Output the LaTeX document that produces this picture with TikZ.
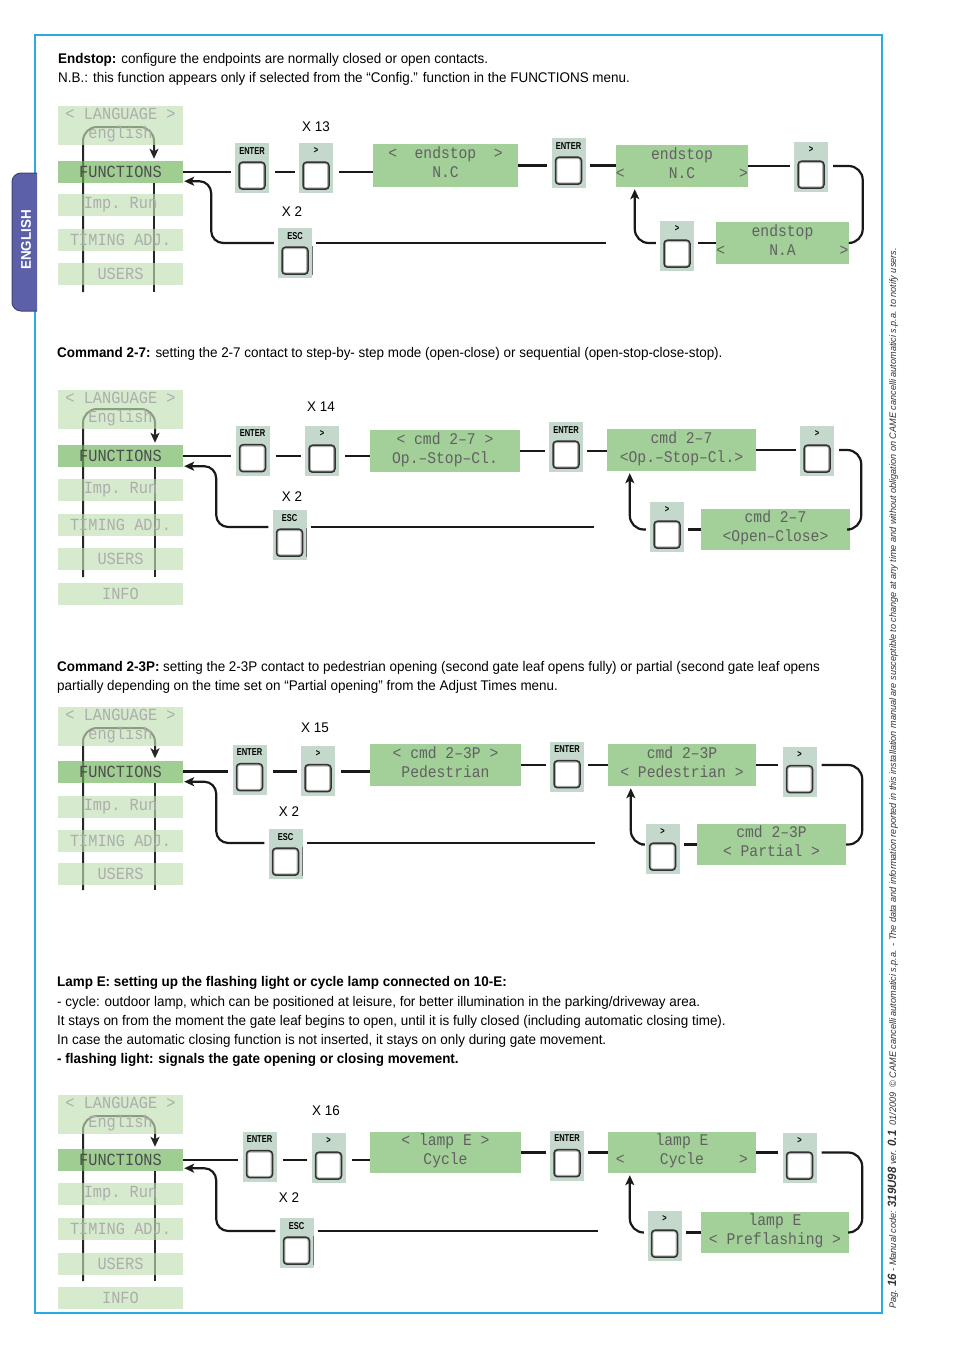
\documentclass[tikz,border=0pt]{standalone}
\usepackage{fontspec}
\setmainfont{Liberation Sans}[FakeStretch=0.96]
\newfontfamily\lcdfont{Liberation Mono}[FakeStretch=0.9]
\newfontfamily\keyfont{Liberation Sans}[FakeStretch=0.75]
\usepackage{tikz}
\usetikzlibrary{arrows.meta, positioning, backgrounds}
\definecolor{framecyan}{RGB}{41,171,226}
\definecolor{tabblue}{RGB}{92,96,168}
\definecolor{lcdgreen}{RGB}{163,207,153}
\definecolor{menulight}{RGB}{192,222,178}
\definecolor{menudark}{RGB}{108,178,88}
\definecolor{panelgrey}{RGB}{197,216,204}
\tikzstyle{menubox} = [rectangle, minimum width=125pt, minimum height=22pt, inner sep=0pt, fill=menulight, fill opacity=0.65, text opacity=1, text=black!32, font=\lcdfont\fontsize{17}{19}\selectfont, align=center]
\tikzstyle{menusel} = [menubox, fill=menudark, text=black!70]
\tikzstyle{lcd} = [rectangle, fill=lcdgreen, inner sep=0pt, minimum height=42pt, text height=30pt, text depth=6pt, text=black!62, font=\lcdfont\fontsize{16.3}{19}\selectfont, align=center]
\tikzstyle{keypanel} = [rectangle, fill=panelgrey, minimum width=34pt, minimum height=50pt, inner sep=0pt]
\tikzstyle{keybtn} = [rectangle, rounded corners=3.5pt, draw=black!80, line width=1.5pt, fill=white, minimum width=26pt, minimum height=27pt, inner sep=0pt, path picture={\draw[black!30, line width=3.6pt, rounded corners=3pt] (path picture bounding box.south west) rectangle (path picture bounding box.north east);}]
\tikzstyle{keylabel} = [font=\keyfont\bfseries\fontsize{10}{10}\selectfont, inner sep=0pt]
\tikzstyle{times} = [font=\fontsize{14}{14}\selectfont, inner sep=0pt]
\tikzstyle{bodytext} = [anchor=base west, inner sep=0pt, font=\fontsize{14}{14}\selectfont]
\tikzstyle{conn} = [line width=2.2pt, black!90]
\tikzstyle{flowarrow} = [conn, -{Stealth[length=10pt, width=9pt, inset=2.5pt]}]
\tikzstyle{menuline} = [line width=2pt, black!85]
\tikzstyle{menuarrow} = [menuline, -{Stealth[length=10pt, width=9pt, inset=2.5pt]}]
% key: name, label, x, y
\newcommand{\keypad}[4]{%
  \node (#1) [keypanel] at (#3,#4) {};
  \node (#1l) [keylabel] at ([yshift=-8pt]#1.north) {#2};
  \node (#1b) [keybtn] at ([yshift=17.5pt]#1.south) {};
}
\newcommand{\fbnum}[1]{{\bfseries\fontsize{12}{12}\selectfont #1}}
\begin{document}
\begin{tikzpicture}[x=1pt, y=-1pt]
\useasboundingbox (0,0) rectangle (954,1350);
% frame and tab
\draw[framecyan, line width=1.5pt] (35,35) rectangle (882,1313);
\filldraw[fill=tabblue, draw=tabblue!70!black, line width=1pt, rounded corners=9pt] (37,311) -- (12,311) -- (12,173) -- (37,173);
\node (tab) [rotate=90, text=white, font=\bfseries\fontsize{14}{14}\selectfont] at (26,240) {ENGLISH};
\node (foot) [rotate=90, anchor=base west, inner sep=0pt, text=black!80, font=\itshape\fontsize{9.5}{9.5}\selectfont] at (896,1309)
  {Pag. \fbnum{16} - Manual code: \fbnum{319U98} ver. \fbnum{0.1}~~01/2009~~© CAME cancelli automatici s.p.a. - The data and information reported in this installation manual are susceptible to change at any time and without obligation on CAME cancelli automatici s.p.a. to notify users.};

% ---------- endstop
\node (head1) [bodytext] at (58,63) {\textbf{Endstop:} configure the endpoints are normally closed or open contacts.};
\node (note1) [bodytext] at (58,82) {N.B.: this function appears only if selected from the “Config.” function in the FUNCTIONS menu.};
\node (lang1) [menubox, minimum height=39pt] at (120.5,125.5) {<~LANGUAGE~>\\english};
\node (fun1) [menusel] at (120.5,172) {FUNCTIONS};
\node (imp1) [menubox] at (120.5,205) {Imp.~Run};
\node (tim1) [menubox] at (120.5,240) {TIMING~ADJ.};
\node (usr1) [menubox] at (120.5,274) {USERS};
\coordinate (ml1) at (83,292);
\coordinate (mr1) at (154,127);
\keypad{ent1}{ENTER}{252}{168}
\keypad{next1}{>}{316}{168}
\keypad{esc1}{ESC}{295}{253}
\node (x13) [times] at (316,127) {X 13};
\node (x2a) [times] at (292,212) {X 2};
\node (item1) [lcd, minimum width=145pt, minimum height=43pt] at (445.5,165.5) {<~~endstop~~>\\N.C};
\keypad{conf1}{ENTER}{568.5}{163}
\node (cur1) [lcd, minimum width=132pt] at (682,166) {endstop\\<~~~~~N.C~~~~~>};
\keypad{up1}{>}{811}{167}
\node (alt1) [lcd, minimum width=131pt] at (782.5,243) {endstop\\<~~~~~N.A~~~~~>};
\keypad{down1}{>}{677}{246}
\coordinate (escend1) at (606,243);
\begin{scope}[on background layer]
\draw[menuarrow, rounded corners=14pt, shorten >=2pt] (ml1) |- (mr1) -- (fun1.north -| mr1);
\draw[menuline] (fun1.south -| mr1) -- (ml1 -| mr1);
\end{scope}
\draw[conn, shorten >=4pt] (fun1.east) -- (ent1.west |- fun1.east);
\draw[conn, shorten <=6pt, shorten >=4pt] (ent1.east |- fun1.east) -- (next1.west |- fun1.east);
\draw[conn, shorten <=6pt] (next1.east |- fun1.east) -- (item1.west |- fun1.east);
\draw[conn, shorten >=4pt] (item1.east) -- (conf1.west |- item1.east);
\draw[conn, shorten <=4pt] (conf1.east |- item1.east) -- (cur1.west |- item1.east);
\draw[conn, shorten >=4pt] (cur1.east) -- (up1.west |- cur1.east);
\draw[conn, shorten <=5pt, rounded corners=14pt] (up1.east |- cur1.east) -| ([xshift=14pt]alt1.east) -- (alt1.east);
\draw[conn, shorten >=4pt] (alt1.west) -- (down1.east |- alt1.west);
\draw[flowarrow, shorten <=4pt, shorten >=2pt, rounded corners=14pt] (down1.west |- alt1.west) -| ([xshift=19pt]cur1.south west);
\draw[conn, shorten <=4pt] (esc1.east |- escend1) -- (escend1);
\draw[flowarrow, shorten <=4pt, shorten >=1pt, rounded corners=12pt] (esc1.west |- escend1) -| ([xshift=28pt, yshift=2pt]fun1.south east) -- ([yshift=2pt]fun1.south east);
\draw[black!55, line width=1.2pt] (esc1b.north -| esc1.east) -- (esc1b.south -| esc1.east);

% ---------- cmd 2-7
\node (head2) [bodytext] at (57,357) {\textbf{Command 2-7:} setting the 2-7 contact to step-by- step mode (open-close) or sequential (open-stop-close-stop).};
\node (lang2) [menubox, minimum height=39pt] at (120.5,409.5) {<~LANGUAGE~>\\English};
\node (fun2) [menusel] at (120.5,456) {FUNCTIONS};
\node (imp2) [menubox] at (120.5,490) {Imp.~Run};
\node (tim2) [menubox] at (120.5,525) {TIMING~ADJ.};
\node (usr2) [menubox] at (120.5,559) {USERS};
\node (info2) [menubox] at (120.5,594) {INFO};
\coordinate (ml2) at (83,577);
\coordinate (mr2) at (155,409);
\keypad{ent2}{ENTER}{252.5}{450.5}
\keypad{next2}{>}{322}{451}
\keypad{esc2}{ESC}{289.5}{535}
\node (x14) [times] at (321,407) {X 14};
\node (x2b) [times] at (292,497) {X 2};
\node (item2) [lcd, minimum width=150pt] at (445,451) {<~cmd~2–7~>\\Op.–Stop–Cl.};
\keypad{conf2}{ENTER}{566}{447}
\node (cur2) [lcd, minimum width=149pt] at (681.5,450) {cmd~2–7\\<Op.–Stop–Cl.>};
\keypad{up2}{>}{817}{451}
\node (alt2) [lcd, minimum width=149pt, minimum height=41pt] at (775.5,529.5) {cmd~2–7\\<Open–Close>};
\keypad{down2}{>}{667}{527}
\coordinate (escend2) at (594,527);
\begin{scope}[on background layer]
\draw[menuarrow, rounded corners=14pt, shorten >=2pt] (ml2) |- (mr2) -- (fun2.north -| mr2);
\draw[menuline] (fun2.south -| mr2) -- (ml2 -| mr2);
\end{scope}
\draw[conn, shorten >=4pt] (fun2.east) -- (ent2.west |- fun2.east);
\draw[conn, shorten <=6pt, shorten >=4pt] (ent2.east |- fun2.east) -- (next2.west |- fun2.east);
\draw[conn, shorten <=6pt] (next2.east |- fun2.east) -- (item2.west |- fun2.east);
\draw[conn, shorten >=4pt] (item2.east) -- (conf2.west |- item2.east);
\draw[conn, shorten <=4pt] (conf2.east |- item2.east) -- (cur2.west |- item2.east);
\draw[conn, shorten >=4pt] (cur2.east) -- (up2.west |- cur2.east);
\draw[conn, shorten <=5pt, rounded corners=14pt] (up2.east |- cur2.east) -| ([xshift=11pt]alt2.east) -- (alt2.east);
\draw[conn, shorten >=4pt] (alt2.west) -- (down2.east |- alt2.west);
\draw[flowarrow, shorten <=4pt, shorten >=2pt, rounded corners=14pt] (down2.west |- alt2.west) -| ([xshift=23pt]cur2.south west);
\draw[conn, shorten <=4pt] (esc2.east |- escend2) -- (escend2);
\draw[flowarrow, shorten <=4pt, shorten >=1pt, rounded corners=12pt] (esc2.west |- escend2) -| ([xshift=33pt, yshift=1pt]fun2.south east) -- ([yshift=1pt]fun2.south east);
\draw[black!55, line width=1.2pt] (esc2b.north -| esc2.east) -- (esc2b.south -| esc2.east);

% ---------- cmd 2-3P
\node (head3) [bodytext] at (57,671) {\textbf{Command 2-3P:} setting the 2-3P contact to pedestrian opening (second gate leaf opens fully) or partial (second gate leaf opens};
\node (note3) [bodytext] at (57,690) {partially depending on the time set on “Partial opening” from the Adjust Times menu.};
\node (lang3) [menubox, minimum height=39pt] at (120.5,726) {<~LANGUAGE~>\\english};
\node (fun3) [menusel] at (120.5,771.5) {FUNCTIONS};
\node (imp3) [menubox] at (120.5,806.5) {Imp.~Run};
\node (tim3) [menubox] at (120.5,840.5) {TIMING~ADJ.};
\node (usr3) [menubox] at (120.5,874) {USERS};
\coordinate (ml3) at (83,890);
\coordinate (mr3) at (155,728);
\keypad{ent3}{ENTER}{249.5}{769.5}
\keypad{next3}{>}{318}{770.5}
\keypad{esc3}{ESC}{285.5}{854}
\node (x15) [times] at (315,728) {X 15};
\node (x2c) [times] at (289,812) {X 2};
\node (item3) [lcd, minimum width=151pt] at (445.5,765) {<~cmd~2–3P~>\\Pedestrian};
\keypad{conf3}{ENTER}{567}{766.5}
\node (cur3) [lcd, minimum width=148pt] at (682,765) {cmd~2–3P\\<~Pedestrian~>};
\keypad{up3}{>}{799.5}{771.5}
\node (alt3) [lcd, minimum width=149pt, minimum height=41pt] at (771.5,844.5) {cmd~2–3P\\<~Partial~>};
\keypad{down3}{>}{662.5}{849}
\coordinate (escend3) at (595,843);
\begin{scope}[on background layer]
\draw[menuarrow, rounded corners=14pt, shorten >=2pt] (ml3) |- (mr3) -- (fun3.north -| mr3);
\draw[menuline] (fun3.south -| mr3) -- (ml3 -| mr3);
\end{scope}
\draw[conn, shorten >=4pt] (fun3.east) -- (ent3.west |- fun3.east);
\draw[conn, shorten <=6pt, shorten >=4pt] (ent3.east |- fun3.east) -- (next3.west |- fun3.east);
\draw[conn, shorten <=6pt] (next3.east |- fun3.east) -- (item3.west |- fun3.east);
\draw[conn, shorten >=4pt] (item3.east) -- (conf3.west |- item3.east);
\draw[conn, shorten <=4pt] (conf3.east |- item3.east) -- (cur3.west |- item3.east);
\draw[conn, shorten >=4pt] (cur3.east) -- (up3.west |- cur3.east);
\draw[conn, shorten <=5pt, rounded corners=14pt] (up3.east |- cur3.east) -| ([xshift=16pt]alt3.east) -- (alt3.east);
\draw[conn, shorten >=4pt] (alt3.west) -- (down3.east |- alt3.west);
\draw[flowarrow, shorten <=4pt, shorten >=2pt, rounded corners=14pt] (down3.west |- alt3.west) -| ([xshift=23pt]cur3.south west);
\draw[conn, shorten <=4pt] (esc3.east |- escend3) -- (escend3);
\draw[flowarrow, shorten <=4pt, shorten >=1pt, rounded corners=12pt] (esc3.west |- escend3) -| ([xshift=33pt, yshift=1pt]fun3.south east) -- ([yshift=1pt]fun3.south east);
\draw[black!55, line width=1.2pt] (esc3b.north -| esc3.east) -- (esc3b.south -| esc3.east);

% ---------- lamp E
\node (head4) [bodytext] at (57,986) {\textbf{Lamp E: setting up the flashing light or cycle lamp connected on 10-E:}};
\node (cyc4) [bodytext] at (57,1006) {- cycle: outdoor lamp, which can be positioned at leisure, for better illumination in the parking/driveway area.};
\node (stay4) [bodytext] at (57,1025) {It stays on from the moment the gate leaf begins to open, until it is fully closed (including automatic closing time).};
\node (case4) [bodytext] at (57,1044) {In case the automatic closing function is not inserted, it stays on only during gate movement.};
\node (flash4) [bodytext] at (57,1063) {\textbf{- flashing light: signals the gate opening or closing movement.}};
\node (lang4) [menubox, minimum height=39pt] at (120.5,1114) {<~LANGUAGE~>\\English};
\node (fun4) [menusel] at (120.5,1160) {FUNCTIONS};
\node (imp4) [menubox] at (120.5,1194) {Imp.~Run};
\node (tim4) [menubox] at (120.5,1229) {TIMING~ADJ.};
\node (usr4) [menubox] at (120.5,1263.5) {USERS};
\node (info4) [menubox] at (120.5,1298) {INFO};
\coordinate (ml4) at (83,1281);
\coordinate (mr4) at (155,1116);
\keypad{ent4}{ENTER}{259.5}{1156.5}
\keypad{next4}{>}{328.5}{1158}
\keypad{esc4}{ESC}{296.5}{1243}
\node (x16) [times] at (326,1111) {X 16};
\node (x2d) [times] at (289,1198) {X 2};
\node (item4) [lcd, minimum width=151pt, minimum height=41pt] at (445.5,1152.5) {<~lamp~E~>\\Cycle};
\keypad{conf4}{ENTER}{567}{1155.5}
\node (cur4) [lcd, minimum width=148pt, minimum height=41pt] at (682,1152.5) {lamp~E\\<~~~~Cycle~~~~>};
\keypad{up4}{>}{799.5}{1158}
\node (alt4) [lcd, minimum width=148pt, minimum height=41pt] at (775,1232.5) {lamp~E\\<~Preflashing~>};
\keypad{down4}{>}{664.5}{1236}
\coordinate (escend4) at (598,1231);
\begin{scope}[on background layer]
\draw[menuarrow, rounded corners=14pt, shorten >=2pt] (ml4) |- (mr4) -- (fun4.north -| mr4);
\draw[menuline] (fun4.south -| mr4) -- (ml4 -| mr4);
\end{scope}
\draw[conn, shorten >=4pt] (fun4.east) -- (ent4.west |- fun4.east);
\draw[conn, shorten <=6pt, shorten >=4pt] (ent4.east |- fun4.east) -- (next4.west |- fun4.east);
\draw[conn, shorten <=6pt] (next4.east |- fun4.east) -- (item4.west |- fun4.east);
\draw[conn, shorten >=4pt] (item4.east) -- (conf4.west |- item4.east);
\draw[conn, shorten <=4pt] (conf4.east |- item4.east) -- (cur4.west |- item4.east);
\draw[conn, shorten >=4pt] (cur4.east) -- (up4.west |- cur4.east);
\draw[conn, shorten <=5pt, rounded corners=14pt] (up4.east |- cur4.east) -| ([xshift=13pt]alt4.east) -- (alt4.east);
\draw[conn, shorten >=4pt] (alt4.west) -- (down4.east |- alt4.west);
\draw[flowarrow, shorten <=4pt, shorten >=2pt, rounded corners=14pt] (down4.west |- alt4.west) -| ([xshift=22pt]cur4.south west);
\draw[conn, shorten <=4pt] (esc4.east |- escend4) -- (escend4);
\draw[flowarrow, shorten <=4pt, shorten >=1pt, rounded corners=12pt] (esc4.west |- escend4) -| ([xshift=33pt, yshift=3pt]fun4.south east) -- ([yshift=3pt]fun4.south east);
\draw[black!55, line width=1.2pt] (esc4b.north -| esc4.east) -- (esc4b.south -| esc4.east);
\end{tikzpicture}
\end{document}
